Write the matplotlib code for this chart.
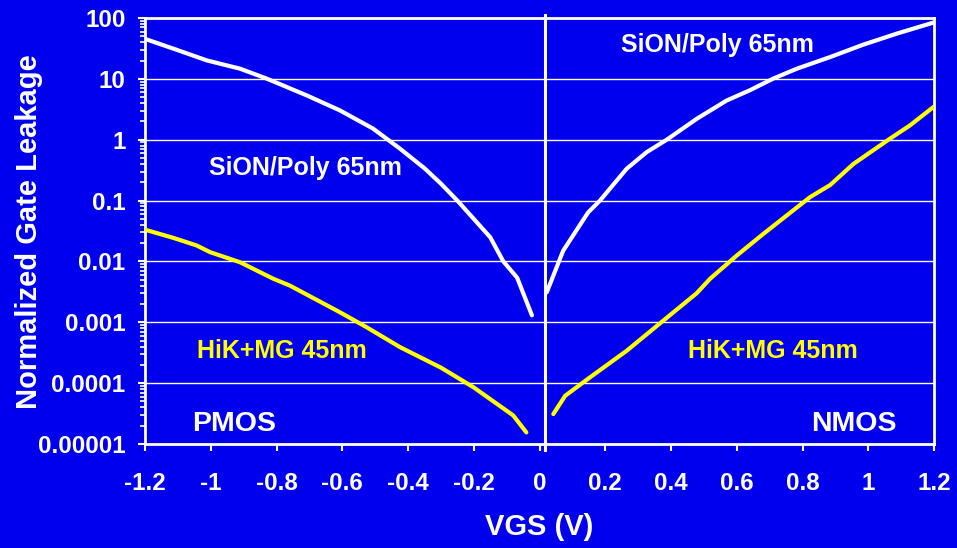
import matplotlib

matplotlib.use("Agg")
import matplotlib.pyplot as plt
from matplotlib.ticker import LogLocator, FixedLocator

BG = "#0000EE"
YEL = "#FFFF00"

# PMOS branch (negative VGS)
pmos_sion_x = [-1.198, -1.114, -1.012, -0.911, -0.83, -0.708, -0.607, -0.506, -0.424, -0.35,
               -0.3, -0.25, -0.2, -0.15, -0.11, -0.068, -0.023]
pmos_sion_y = [45, 31.4, 20.1, 14.7, 10.1, 5.35, 3.03, 1.52, 0.71, 0.34,
               0.19, 0.1, 0.05, 0.025, 0.01, 0.0054, 0.0013]
pmos_hik_x = [-1.198, -1.114, -1.043, -1.002, -0.911, -0.81, -0.759, -0.607, -0.526, -0.424,
              -0.3, -0.2, -0.08, -0.04]
pmos_hik_y = [0.033, 0.0244, 0.0183, 0.0142, 0.0097, 0.0052, 0.004, 0.00146, 0.00083, 0.00039,
              0.00018, 0.000085, 0.0000295, 0.0000155]

# NMOS branch (positive VGS)
nmos_sion_x = [0.022, 0.072, 0.148, 0.184, 0.265, 0.326, 0.387, 0.478, 0.569, 0.64, 0.711,
               0.783, 0.884, 0.985, 1.087, 1.198]
nmos_sion_y = [0.0031, 0.015, 0.064, 0.1, 0.333, 0.625, 1.0, 2.2, 4.4, 6.5, 10.1,
               14.7, 22.8, 36.5, 55.4, 84]
nmos_hik_x = [0.042, 0.078, 0.154, 0.265, 0.377, 0.478, 0.519, 0.6, 0.681, 0.823, 0.884,
              0.955, 1.066, 1.127, 1.198]
nmos_hik_y = [0.000031, 0.000062, 0.000125, 0.00034, 0.00107, 0.003, 0.0052, 0.0125, 0.0284,
              0.114, 0.18, 0.4, 1.04, 1.72, 3.44]

xticks = [-1.2, -1, -0.8, -0.6, -0.4, -0.2, 0, 0.2, 0.4, 0.6, 0.8, 1, 1.2]
xticklabels = ["-1.2", "-1", "-0.8", "-0.6", "-0.4", "-0.2", "0", "0.2", "0.4", "0.6", "0.8", "1", "1.2"]
yticks = [1e-5, 1e-4, 1e-3, 1e-2, 1e-1, 1, 10, 100]
yticklabels = ["0.00001", "0.0001", "0.001", "0.01", "0.1", "1", "10", "100"]

plt.rcParams["font.family"] = ["Liberation Sans", "DejaVu Sans"]
plt.rcParams["font.weight"] = "bold"

fig = plt.figure(figsize=(9.57, 5.48), dpi=100, facecolor=BG)
ax = fig.add_axes([145 / 957, 1 - 444 / 548, (934 - 145) / 957, (444 - 18) / 548])
ax.set_facecolor(BG)
ax.set_yscale("log")
ax.set_xlim(-1.2, 1.2)
ax.set_ylim(1e-5, 100)

for y in yticks[1:-1]:
    ax.axhline(y, color="white", lw=1.0, zorder=1)
ax.axvline(0.017, ymin=-0.015, ymax=1.008, color="white", lw=2.2, zorder=2, clip_on=False)

ax.plot(pmos_sion_x, pmos_sion_y, color="white", lw=3, solid_capstyle="round", zorder=3)
ax.plot(nmos_sion_x, nmos_sion_y, color="white", lw=3, solid_capstyle="round", zorder=3)
ax.plot(pmos_hik_x, pmos_hik_y, color=YEL, lw=3, solid_capstyle="round", zorder=3)
ax.plot(nmos_hik_x, nmos_hik_y, color=YEL, lw=3, solid_capstyle="round", zorder=3)

txt = dict(fontsize=18, fontweight="bold", ha="center", va="center")
ax.text(-0.713, 0.34, "SiON/Poly 65nm", color="white", **txt)
ax.text(0.54, 35.5, "SiON/Poly 65nm", color="white", **txt)
ax.text(-0.783, 3.4e-4, "HiK+MG 45nm", color=YEL, **txt)
ax.text(0.71, 3.4e-4, "HiK+MG 45nm", color=YEL, **txt)
txt["fontsize"] = 20.5
ax.text(-0.93, 2.1e-5, "PMOS", color="white", **txt)
ax.text(0.957, 2.1e-5, "NMOS", color="white", **txt)

for s in ax.spines.values():
    s.set_color("white")
    s.set_linewidth(2)

ax.xaxis.set_major_locator(FixedLocator(xticks))
ax.set_xticklabels(xticklabels)
ax.yaxis.set_major_locator(FixedLocator(yticks))
ax.set_yticklabels(yticklabels)
ax.yaxis.set_minor_locator(LogLocator(base=10, subs=range(2, 10)))
ax.yaxis.set_minor_formatter(plt.NullFormatter())
ax.tick_params(axis="both", which="major", colors="white", labelsize=17.4, width=1.5, length=5)
ax.tick_params(axis="x", pad=15)
ax.tick_params(axis="y", pad=9)
ax.tick_params(axis="y", which="minor", colors="white", width=1.2, length=3.5)
for lab in ax.get_xticklabels() + ax.get_yticklabels():
    lab.set_fontweight("bold")

fig.text(539 / 957, 1 - 527 / 548, "VGS (V)", color="white", fontsize=21,
         fontweight="bold", ha="center", va="center")
fig.text(29 / 957, 1 - 232 / 548, "Normalized Gate Leakage", color="white", fontsize=21,
         fontweight="bold", ha="center", va="center", rotation=90)

fig.savefig("out.png", dpi=100, facecolor=BG)
